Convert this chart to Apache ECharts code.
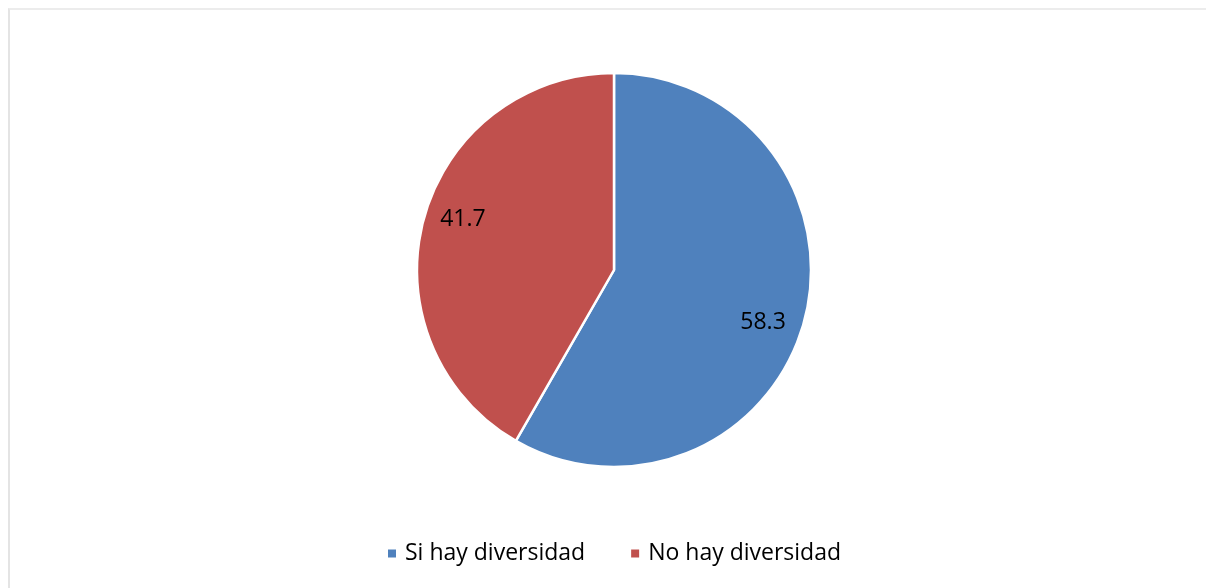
<!DOCTYPE html>
<html>
<head>
<meta charset="utf-8">
<script src="https://cdn.jsdelivr.net/npm/echarts@6/dist/echarts.min.js"></script>
<style>
  html, body { margin: 0; padding: 0; background: #ffffff; }
  #frame {
    position: absolute; left: 8px; top: 8px; width: 1198px; height: 580px;
    border-left: 2px solid #e4e4e4; border-top: 2px solid #ececec;
    box-sizing: border-box;
  }
  #chart { position: absolute; left: 0; top: 0; width: 1206px; height: 588px; }
</style>
</head>
<body>
<div id="frame"></div>
<div id="chart"></div>
<script>
// Survey answers and their shares (%)
const categories = ['Si hay diversidad', 'No hay diversidad'];
const shares = [58.3, 41.7];
const colors = ['#4F81BD', '#C0504D'];

const FONT = '"Open Sans", "Liberation Sans", sans-serif';
const R = 197;

const slices = categories.map((name, i) => ({ name, value: shares[i] }));

const chart = echarts.init(document.getElementById('chart'), null, { renderer: 'canvas' });
chart.setOption({
  animation: false,
  color: colors,
  legend: {
    bottom: 18,
    left: 381,
    icon: 'rect',
    itemWidth: 10,
    itemHeight: 10,
    itemGap: 44,
    textStyle: { fontFamily: FONT, fontSize: 23, color: '#000000', padding: [0, 0, 0, 3] },
    data: categories.map((name, i) => ({ name, itemStyle: { color: colors[i] } }))
  },
  series: [
    {
      // the pie itself
      type: 'pie',
      center: [614, 270],
      radius: [0, R],
      startAngle: 90,
      clockwise: true,
      silent: true,
      itemStyle: { borderColor: '#ffffff', borderWidth: 2.5 },
      label: { show: false },
      labelLine: { show: false },
      data: slices
    },
    {
      // value labels, set out towards the rim of each slice
      type: 'pie',
      center: [613, 271],
      radius: [0, R * 1.58],
      startAngle: 86,
      clockwise: true,
      silent: true,
      legendHoverLink: false,
      itemStyle: { color: 'rgba(0,0,0,0)' },
      label: {
        show: true,
        position: 'inside',
        formatter: p => p.value.toFixed(1),
        fontFamily: FONT,
        fontSize: 23,
        color: '#000000'
      },
      labelLine: { show: false },
      data: slices
    }
  ]
});
</script>
</body>
</html>
